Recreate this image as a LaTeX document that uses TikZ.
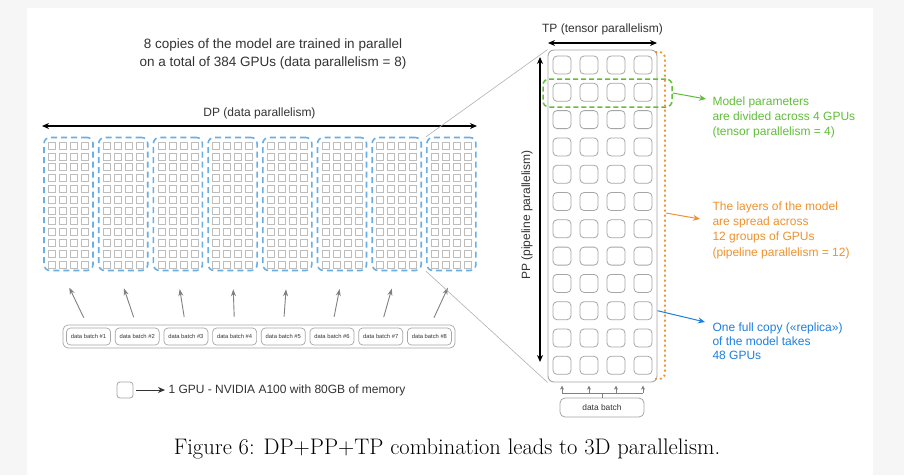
\documentclass[tikz,border=0pt]{standalone}
\usepackage{fontspec}
\setsansfont{Liberation Sans}
\usetikzlibrary{arrows.meta, calc, positioning}

\definecolor{pagegray}{HTML}{F6F6F6}
\definecolor{inkgray}{HTML}{333333}
\definecolor{boxgray}{HTML}{A6A6A6}
\definecolor{cellgray}{HTML}{BDBDBD}
\definecolor{dpblue}{HTML}{6AAEE6}
\definecolor{repblue}{HTML}{1E7FE0}
\definecolor{tpgreen}{HTML}{62BE3A}
\definecolor{pporange}{HTML}{F0922E}

\begin{document}
\begin{tikzpicture}[x=1pt, y=-1pt, font=\sffamily, inkgray,
    gpu/.style={draw=boxgray, rounded corners=4pt, minimum size=18pt, inner sep=0pt, line width=0.8pt},
    replica/.style={draw=dpblue, dash pattern=on 6pt off 4pt, line width=1.6pt, rounded corners=6pt,
      minimum width=49pt, minimum height=133pt, inner sep=0pt},
    batchbox/.style={draw=boxgray, rounded corners=4pt, line width=0.7pt, minimum width=44pt,
      minimum height=17pt, inner sep=0pt, font=\sffamily\fontsize{5.8}{7}\selectfont},
    dimarrow/.style={black, line width=1.3pt, {Stealth[length=7pt,width=6pt]}-{Stealth[length=7pt,width=6pt]}},
    feed/.style={gray, line width=0.9pt, -{Stealth[length=7pt,width=5pt]}},
    pointer/.style={line width=1pt, -{Stealth[length=7pt,width=6pt]}},
    note/.style={anchor=west, align=left, font=\sffamily\fontsize{12}{15}\selectfont},
    label12/.style={font=\sffamily\fontsize{12}{14}\selectfont},
    zoomline/.style={gray!60, line width=0.6pt}]

  % page
  \fill[pagegray] (0,0) rectangle (904,475);
  \fill[white] (27,8) rectangle (873,475);
  \useasboundingbox (0,0) rectangle (904,475);

  % ---- data parallel copies ----
  \node[align=center, font=\sffamily\fontsize{13.5}{18}\selectfont] (title) at (273,54)
    {8 copies of the model are trained in parallel\\on a total of 384 GPUs (data parallelism = 8)};

  \coordinate (dpl) at (42,126);
  \coordinate (dpr) at (477,126);
  \draw[dimarrow] (dpl) -- (dpr) node[midway, above=3pt, label12, inkgray] (dplabel) {DP (data parallelism)};

  \foreach \i in {1,...,8} {
    \node[replica] (rep\i) at ({68.5+54.7*(\i-1)}, 204) {};
    \foreach \c in {-16.5,-5.5,5.5,16.5}
      \foreach \r in {0,...,11}
        \draw[cellgray, line width=0.6pt] ({68.5+54.7*(\i-1)+\c-3.5}, {142+10.8*\r}) rectangle ++(7,7);
  }

  \node[draw=boxgray, rounded corners=5pt, line width=0.7pt, minimum width=392pt, minimum height=23pt,
    inner sep=0pt] (batches) at (259,336.5) {};
  \foreach \i/\dx in {1/-7, 2/-5, 3/-1, 4/0, 5/0, 6/1, 7/0, 8/4} {
    \node[batchbox] (batch\i) at ({88.5+48.7*(\i-1)}, 336.5) {data batch \#\i};
    \draw[feed, shorten <=11pt, shorten >=18pt] (batch\i.north) -- ($(rep\i.south)+(\dx,0)$);
  }

  % legend
  \node[draw=boxgray, rounded corners=3pt, line width=0.8pt, minimum size=16pt, inner sep=0pt] (legendgpu) at (125,390) {};
  \node[anchor=west, label12] (legendtext) at (165,390) {1 GPU - NVIDIA A100 with 80GB of memory};
  \draw[inkgray, line width=1pt, -{Stealth[length=7pt,width=6pt]}, shorten <=3pt] (legendgpu) -- (legendtext);

  % ---- one replica ----
  \node[draw=boxgray, rounded corners=6pt, line width=0.9pt, minimum width=109pt, minimum height=332pt,
    inner sep=0pt] (model) at (602.5,216) {};
  \foreach \r in {1,...,12}
    \foreach \c in {1,...,4}
      \node[gpu] (g\r-\c) at ({562+27*(\c-1)}, {65+27.3*(\r-1)}) {};

  \draw[zoomline] (rep8.north west) -- (model.north west);
  \draw[zoomline] (rep8.south west) -- (model.south west);

  \coordinate (tpl) at (548,43);
  \coordinate (tpr) at (657,43);
  \draw[dimarrow] (tpl) -- (tpr) node[midway, above=4pt, label12, inkgray] (tplabel) {TP (tensor parallelism)};

  \coordinate (ppt) at (540,57);
  \coordinate (ppb) at (540,362);
  \draw[dimarrow] (ppt) -- (ppb);
  \node[rotate=90, label12] (pplabel) at (527,215) {PP (pipeline parallelism)};

  % tensor group
  \node[draw=tpgreen, dash pattern=on 5pt off 3pt, line width=1.5pt, rounded corners=6pt,
    minimum width=129pt, minimum height=28pt, inner sep=0pt] (tpgroup) at (607.5,93) {};
  \node[note, tpgreen] (tpnote) at (709,117)
    {Model parameters\\are divided across 4 GPUs\\(tensor parallelism = 4)};
  \draw[pointer, tpgreen] (tpgroup.east) -- ($(tpnote.west)+(-3,-18)$);

  % pipeline stages
  \draw[pporange, line width=1.8pt, dash pattern=on 2pt off 3pt, rounded corners=6pt]
    (655,52) -- (665,52) -- (665,379) -- (655,379);
  \coordinate (ppbrace) at (666,213);
  \node[note, pporange, font=\sffamily\fontsize{12}{15.3}\selectfont] (ppnote) at (709,230)
    {The layers of the model\\are spread across\\12 groups of GPUs\\(pipeline parallelism = 12)};
  \draw[pointer, pporange] (ppbrace) -- ($(ppnote.west)+(-9,-11)$);

  % replica note
  \node[note, repblue, font=\sffamily\fontsize{12}{14}\selectfont] (repnote) at (709,341)
    {One full copy («replica»)\\of the model takes\\48 GPUs};
  \draw[pointer, repblue] (model.east |- g10-4) -- ($(repnote.west)+(-4,-19)$);

  % data batch for the replica
  \node[draw=boxgray, rounded corners=5pt, line width=0.8pt, minimum width=84pt, minimum height=19pt,
    inner sep=0pt, font=\sffamily\fontsize{8.4}{10}\selectfont] (batch) at (602,407.5) {data batch};
  \coordinate (fork) at (602,393);
  \draw[gray, line width=0.7pt] (batch.north) -- (fork);
  \draw[gray, line width=0.7pt] (g12-1 |- fork) -- (g12-4 |- fork);
  \foreach \c in {1,...,4}
    \draw[gray, line width=0.8pt, -{Stealth[length=4pt,width=4pt]}, shorten >=11pt] (g12-\c |- fork) -- (g12-\c.south);

  % caption
  \node[font=\rmfamily\fontsize{22.5}{27}\selectfont, black] (caption) at (447,449)
    {Figure 6: DP+PP+TP combination leads to 3D parallelism.};
\end{tikzpicture}
\end{document}
